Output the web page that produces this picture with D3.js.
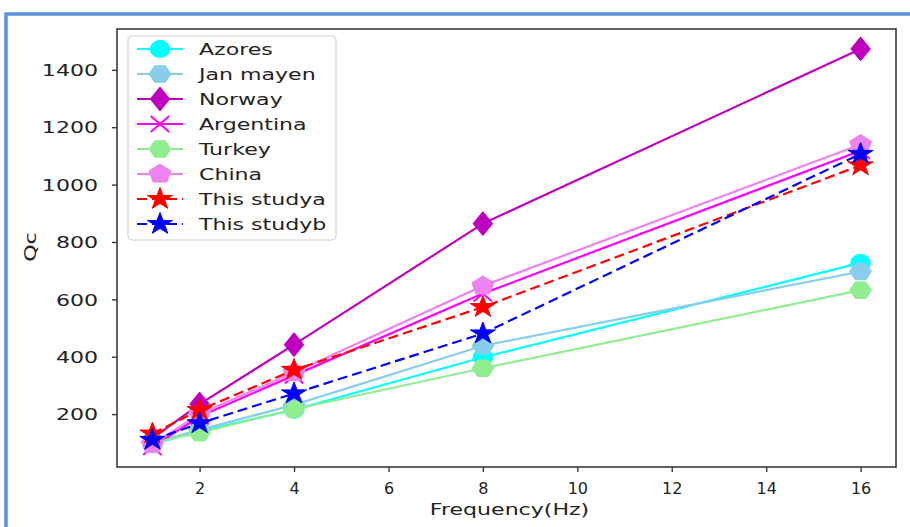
<!DOCTYPE html>
<html>
<head>
<meta charset="utf-8">
<script src="https://cdn.jsdelivr.net/npm/d3@7"></script>
<style>
  html, body { margin: 0; padding: 0; background: #fff; }
  svg { display: block; }
  text { font-family: "DejaVu Sans", sans-serif; fill: #222; }
</style>
</head>
<body>
<svg id="chart" width="910" height="527"></svg>
<script>
// Frequency (Hz) sampled by every site
const frequencies = [1, 2, 4, 8, 16];

// Qc values per region
const azores     = [95, 140, 215, 398, 727];
const janMayen   = [100, 145, 232, 438, 697];
const norway     = [115, 235, 442, 864, 1473];
const argentina  = [85, 192, 335, 620, 1118];
const turkey     = [100, 135, 217, 360, 632];
const china      = [95, 200, 345, 647, 1140];
const thisStudyA = [132, 214, 354, 573, 1067];
const thisStudyB = [110, 168, 272, 481, 1107];

const seriesNames = ["Azores", "Jan mayen", "Norway", "Argentina", "Turkey", "China", "This studya", "This studyb"];
const seriesValues = [azores, janMayen, norway, argentina, turkey, china, thisStudyA, thisStudyB];
const seriesColors = ["#00ffff", "#87ceeb", "#bf00bf", "#ff00ff", "#90ee90", "#ee82ee", "#ff0000", "#0000ff"];
const seriesMarkers = ["circle", "hexagon", "diamond", "x", "hexagon", "pentagon", "star", "star"];
const seriesDashed = [false, false, false, false, false, false, true, true];

const xTicks = [2, 4, 6, 8, 10, 12, 14, 16];
const yTicks = [200, 400, 600, 800, 1000, 1200, 1400];

const svg = d3.select("#chart");
const plot = { left: 117, right: 896, top: 29, bottom: 467 };
const FS = 16;        // font size
const TX = 1.38;      // horizontal text stretch of the figure

// Outer blue frame
svg.append("path")
  .attr("d", "M6,532 L6,14 L915,14")
  .attr("fill", "none")
  .attr("stroke", "#5b8fd8")
  .attr("stroke-width", 3.5);

// Domains padded by 5% like the default autoscale
const xMin = d3.min(frequencies), xMax = d3.max(frequencies);
const allVals = seriesValues.flat();
const yMin = d3.min(allVals), yMax = d3.max(allVals);
const xPad = (xMax - xMin) * 0.05, yPad = (yMax - yMin) * 0.05;

const x = d3.scaleLinear().domain([xMin - xPad, xMax + xPad]).range([plot.left, plot.right]);
const y = d3.scaleLinear().domain([yMin - yPad, yMax + yPad]).range([plot.bottom, plot.top]);

// Marker path generators (centered at origin)
function polygon(n, r, rot, sx) {
  const pts = d3.range(n).map(i => {
    const a = rot + i * 2 * Math.PI / n;
    return [sx * r * Math.cos(a), r * Math.sin(a)];
  });
  return "M" + pts.map(p => p.join(",")).join("L") + "Z";
}
function starPath(ro, ri, sx) {
  const pts = d3.range(10).map(i => {
    const a = -Math.PI / 2 + i * Math.PI / 5;
    const r = i % 2 === 0 ? ro : ri;
    return [sx * r * Math.cos(a), r * Math.sin(a)];
  });
  return "M" + pts.map(p => p.join(",")).join("L") + "Z";
}
const SX = 1.15;
function markerPath(kind) {
  switch (kind) {
    case "circle": return polygon(40, 8.5, 0, SX);
    case "hexagon": return polygon(6, 9.5, 0, SX);
    case "diamond": return `M0,-12L${8.5 * SX},0L0,12L${-8.5 * SX},0Z`;
    case "pentagon": return polygon(5, 10, -Math.PI / 2, SX);
    case "star": return starPath(11.5, 11.5 * 0.382, SX);
    case "x": return `M${-8 * SX},-8L${8 * SX},8M${-8 * SX},8L${8 * SX},-8`;
  }
}
function drawMarker(g, kind, color, cx, cy) {
  const p = g.append("path")
    .attr("d", markerPath(kind))
    .attr("transform", `translate(${cx},${cy})`);
  if (kind === "x") {
    p.attr("fill", "none").attr("stroke", color).attr("stroke-width", 2);
  } else {
    p.attr("fill", color).attr("stroke", color).attr("stroke-width", 1);
  }
}

// Stretched text placed at (tx, ty)
function label(parent, tx, ty, str, anchor, rotate) {
  return parent.append("text")
    .attr("transform", `translate(${tx},${ty})${rotate ? " rotate(-90)" : ""} scale(${TX},1)`)
    .attr("text-anchor", anchor)
    .attr("font-size", FS)
    .text(str);
}

// Axes frame
svg.append("rect")
  .attr("x", plot.left).attr("y", plot.top)
  .attr("width", plot.right - plot.left).attr("height", plot.bottom - plot.top)
  .attr("fill", "none").attr("stroke", "#3a3a3a").attr("stroke-width", 1.6);

// Series
const lineGen = d3.line().x(d => x(d[0])).y(d => y(d[1]));
const seriesG = svg.append("g");
seriesValues.forEach((vals, i) => {
  const pts = frequencies.map((f, j) => [f, vals[j]]);
  const g = seriesG.append("g");
  g.append("path")
    .attr("d", lineGen(pts))
    .attr("fill", "none")
    .attr("stroke", seriesColors[i])
    .attr("stroke-width", 2.2)
    .attr("stroke-dasharray", seriesDashed[i] ? "10,5" : null);
  pts.forEach(p => drawMarker(g, seriesMarkers[i], seriesColors[i], x(p[0]), y(p[1])));
});

// Axes with ticks and labels
const xAxis = d3.axisBottom(x).tickValues(xTicks).tickSize(5).tickFormat(d3.format("d"));
const yAxis = d3.axisLeft(y).tickValues(yTicks).tickSize(5).tickFormat(d3.format("d"));

const gx = svg.append("g").attr("transform", `translate(0,${plot.bottom})`).call(xAxis);
const gy = svg.append("g").attr("transform", `translate(${plot.left},0)`).call(yAxis);
[gx, gy].forEach(g => {
  g.select(".domain").remove();
  g.selectAll(".tick line").attr("stroke", "#3a3a3a").attr("stroke-width", 1.4);
  g.selectAll(".tick text").attr("font-size", FS).attr("fill", "#222")
    .style("font-family", "'DejaVu Sans', sans-serif");
});
gx.selectAll(".tick text")
  .attr("y", null).attr("dy", null)
  .attr("transform", "translate(0,27)");
gy.selectAll(".tick text")
  .attr("x", null).attr("dy", "0.36em")
  .attr("transform", `translate(-19,0) scale(${TX},1)`);

// Axis titles
label(svg, (plot.left + plot.right) / 2 + 3, 515, "Frequency(Hz)", "middle", false);
label(svg, 36, 247, "Qc", "middle", true);

// Legend
const legend = svg.append("g");
legend.append("rect")
  .attr("x", 128).attr("y", 36).attr("width", 208).attr("height", 204)
  .attr("rx", 4)
  .attr("fill", "#fff").attr("fill-opacity", 0.85)
  .attr("stroke", "#d0d0d0").attr("stroke-width", 1.2);
seriesNames.forEach((name, i) => {
  const cy = 49 + i * 25;
  legend.append("line")
    .attr("x1", 137).attr("x2", 183).attr("y1", cy).attr("y2", cy)
    .attr("stroke", seriesColors[i]).attr("stroke-width", 2.2)
    .attr("stroke-dasharray", seriesDashed[i] ? "10,5" : null);
  drawMarker(legend, seriesMarkers[i], seriesColors[i], 160, cy);
  label(legend, 199, cy + 6, name, "start", false);
});
</script>
</body>
</html>
